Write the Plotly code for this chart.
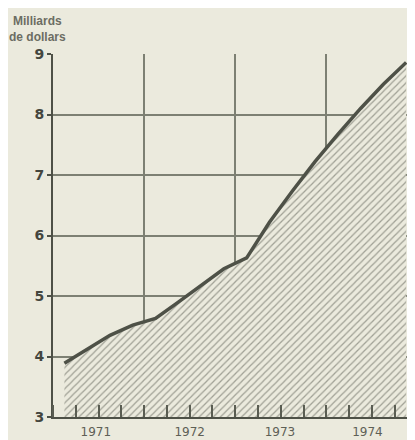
import plotly.graph_objects as go

# milieu de chaque trimestre, 1971-1974
quarters = [1971.125, 1971.375, 1971.625, 1971.875,
            1972.125, 1972.375, 1972.625, 1972.875,
            1973.125, 1973.375, 1973.625, 1973.875,
            1974.125, 1974.375, 1974.625, 1974.875]
values = [3.89, 4.12, 4.35, 4.52,
          4.63, 4.9, 5.18, 5.45,
          5.63, 6.22, 6.73, 7.22,
          7.67, 8.1, 8.5, 8.86]
year_labels = ["1971", "1972", "1973", "1974"]
year_centers = [1971.47, 1972.5, 1973.49, 1974.45]
year_bounds = [1971, 1972, 1973, 1974]

bg = "#ebeadd"
ink = "#4e5147"
grid = "#7d8073"

fig = go.Figure()
fig.add_trace(go.Scatter(
    x=quarters, y=values, mode="lines", fill="tozeroy",
    line=dict(color=ink, width=3.5),
    fillcolor="rgba(0,0,0,0)",
    fillpattern=dict(shape="/", fgcolor="#55584e", bgcolor=bg, size=5, solidity=0.25),
    showlegend=False, hoverinfo="skip",
))
# axe secondaire pour les libellés des années
fig.add_trace(go.Scatter(x=[quarters[0]], y=[values[0]], xaxis="x2", mode="markers",
                         marker=dict(opacity=0), showlegend=False, hoverinfo="skip"))

fig.add_annotation(text="<b>Milliards<br>de dollars</b>", xref="paper", yref="paper",
                   x=-0.042, y=1.022, xanchor="center", yanchor="bottom", showarrow=False,
                   align="center",
                   font=dict(family="Liberation Sans, sans-serif", size=12, color="#6b6d63"))

# la page ajoute 8 px de marge : la figure est réduite d'autant
fig.update_layout(
    width=407, height=432,
    margin=dict(l=45, r=2, t=46, b=23),
    paper_bgcolor=bg, plot_bgcolor=bg,
    xaxis=dict(range=[1971, 1974.95], tickvals=year_bounds, showticklabels=False, ticks="",
               showgrid=True, gridcolor=grid, gridwidth=1.5, zeroline=False, automargin=False,
               showline=True, linecolor=ink, linewidth=2, mirror=False,
               minor=dict(dtick=0.25, tick0=1971, ticks="inside", ticklen=12, tickwidth=1.5,
                          tickcolor="#5a5d52", showgrid=False)),
    xaxis2=dict(overlaying="x", matches="x", side="bottom", tickvals=year_centers, ticktext=year_labels,
                showgrid=False, zeroline=False, ticks="", showline=False, automargin=False,
                ticklabelstandoff=6,
                tickfont=dict(family="DejaVu Sans, sans-serif", size=12, color="#5e6056")),
    yaxis=dict(range=[3, 9], dtick=1, showgrid=True, gridcolor=grid, gridwidth=1.5, zeroline=False,
               showline=True, linecolor=ink, linewidth=2, ticks="outside", ticklen=4, automargin=False,
               tickcolor=ink, tickwidth=1.5,
               tickfont=dict(family="DejaVu Sans, sans-serif", size=14, color="#44463e", weight="bold")),
)

fig.write_html("out.html")
